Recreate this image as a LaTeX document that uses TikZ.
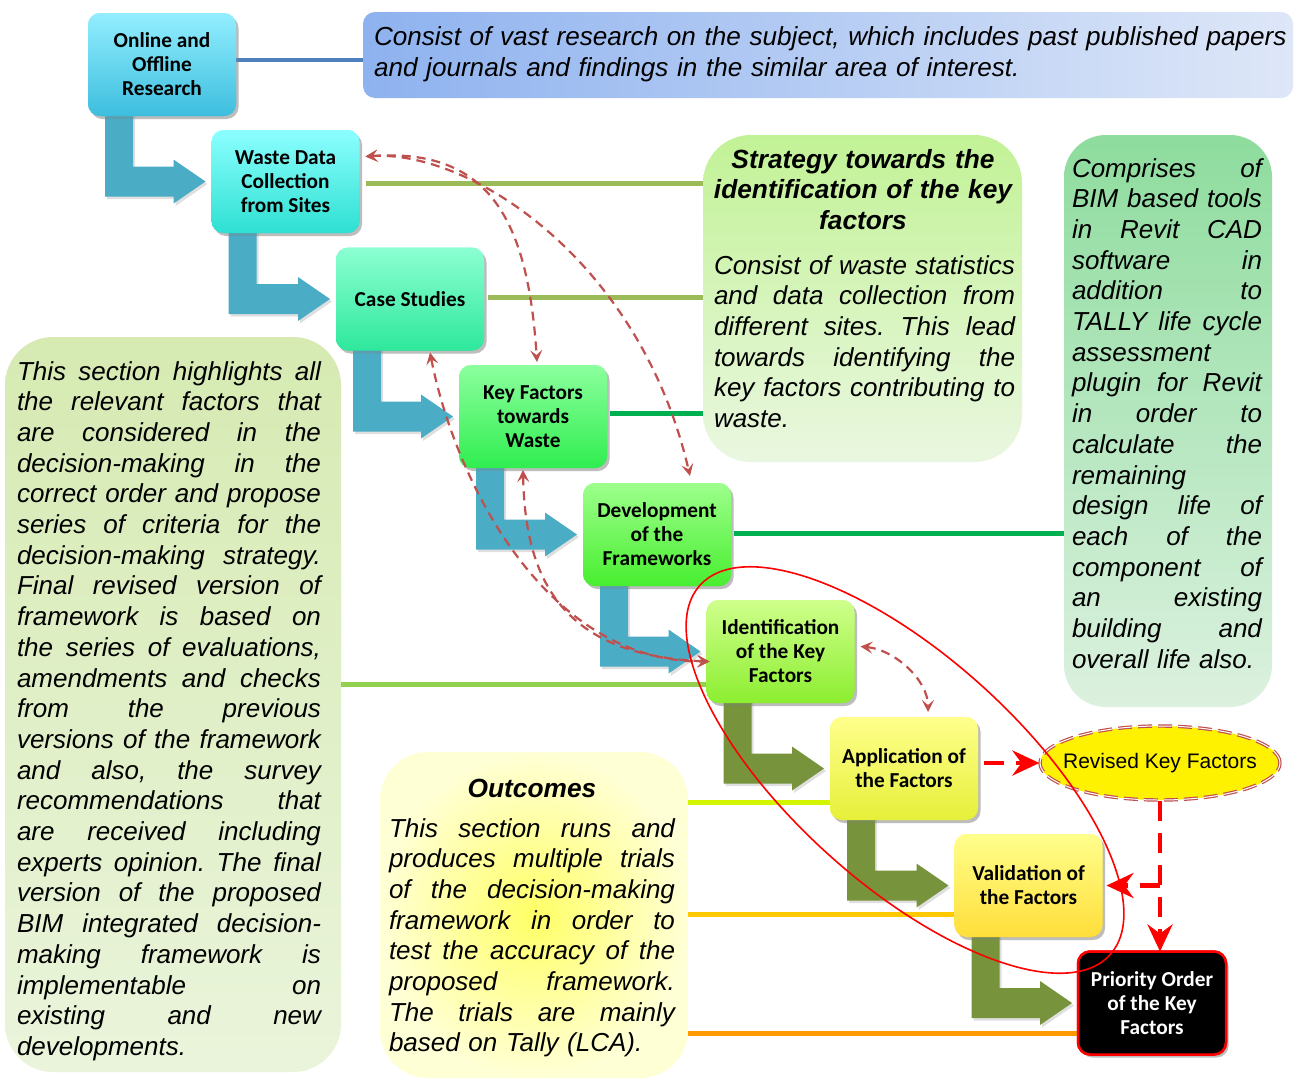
\documentclass[tikz,border=0pt]{standalone}
\usepackage{fontspec}
\setmainfont{Liberation Sans}
\newfontfamily\cbfont{Carlito}
\usetikzlibrary{arrows.meta,shapes.geometric,shadows,calc}

% process box gradients
\definecolor{c1t}{HTML}{93EEFF}\definecolor{c1b}{HTML}{3DBEDE}
\definecolor{c2t}{HTML}{8CFFFF}\definecolor{c2b}{HTML}{2EE0D2}
\definecolor{c3t}{HTML}{8CFFD2}\definecolor{c3b}{HTML}{2EE89C}
\definecolor{c4t}{HTML}{8CFF9E}\definecolor{c4b}{HTML}{30EE50}
\definecolor{c5t}{HTML}{9EFF8C}\definecolor{c5b}{HTML}{48EE30}
\definecolor{c6t}{HTML}{CFFF8C}\definecolor{c6b}{HTML}{8CEE30}
\definecolor{c7t}{HTML}{FFFF8C}\definecolor{c7b}{HTML}{E6F03A}
\definecolor{c8t}{HTML}{FFFF8C}\definecolor{c8b}{HTML}{FFDE3A}
% panels
\definecolor{pA1}{HTML}{8EB2EF}\definecolor{pA2}{HTML}{DEE7F8}
\definecolor{pB1}{HTML}{C2F296}\definecolor{pB2}{HTML}{EAF7E0}
\definecolor{pC1}{HTML}{8EDC9E}\definecolor{pC2}{HTML}{DCF1DF}
\definecolor{pD1}{HTML}{D6EAB2}\definecolor{pD2}{HTML}{EAF4DB}
\definecolor{pE1}{HTML}{FFFF66}\definecolor{pE2}{HTML}{FFFFD6}
% arrows and links
\definecolor{arrblue}{HTML}{4BACC6}
\definecolor{arrolive}{HTML}{77933C}
\definecolor{brn}{HTML}{C0504D}
\definecolor{lnblue}{HTML}{4F81BD}
\definecolor{lnolive}{HTML}{9BBB59}
\definecolor{lngreen}{HTML}{00B050}
\definecolor{lnlime}{HTML}{92D050}
\definecolor{lnyel}{HTML}{D4F500}
\definecolor{lngold}{HTML}{FFC800}
\definecolor{lnorange}{HTML}{FF9900}

% elbow block arrow from the bottom of one step to the left side of the next
\newcommand\elbow[3]{%
  \fill[#3, drop shadow={opacity=0.25, shadow xshift=2pt, shadow yshift=-2.5pt}]
    let \p1=(#1.south west), \p2=(#2.west) in
    (\x1+17pt,\y1+6pt) -- (\x1+45pt,\y1+6pt) -- (\x1+45pt,\y2+15pt)
    -- (\x2-38pt,\y2+15pt) -- (\x2-38pt,\y2+22pt) -- (\x2-6pt,\y2)
    -- (\x2-38pt,\y2-22pt) -- (\x2-38pt,\y2-15pt) -- (\x1+17pt,\y2-15pt) -- cycle;}
% one justified line (interword glue restored so that it can stretch)
\newcommand\jl[1]{\makebox[\hsize][s]{\spaceskip=0pt\xspaceskip=0pt #1}\\}

\begin{document}
\frenchspacing
\begin{tikzpicture}[x=1pt,y=-1pt,
  stepbox/.style={rounded corners=12pt, minimum width=148pt, minimum height=103pt,
    inner sep=2pt, outer sep=0pt, align=center,
    font=\cbfont\bfseries\fontsize{21.3}{24}\selectfont,
    drop shadow={opacity=0.3, shadow xshift=2.5pt, shadow yshift=-3pt}},
  panel/.style={inner sep=0pt, outer sep=0pt},
  desc/.style={inner sep=0pt, outer sep=0pt, align=left,
    font=\fontsize{26}{30.7}\selectfont\itshape},
  link/.style={line width=5pt},
  curvy/.style={draw=brn, line width=2.2pt, dash pattern=on 9pt off 6pt,
    >={Stealth[length=12pt,width=12pt,inset=5pt]}, <->},
  redarrow/.style={draw=red, line width=4.5pt, dash pattern=on 20pt off 12pt,
    -{Stealth[length=27pt,width=25pt,inset=9pt]}},
]
\useasboundingbox (0,0) rectangle (1308,1079);
\fill[white] (0,0) rectangle (1308,1079);

% description panels
\node[panel, rounded corners=12pt, left color=pA1, right color=pA2,
  minimum width=930pt, minimum height=86pt] (A) at (828,55) {};
\node[panel, rounded corners=48pt, top color=pB1, bottom color=pB2,
  minimum width=319pt, minimum height=327pt] (B) at (862.5,298.5) {};
\node[panel, rounded corners=42pt, top color=pC1, bottom color=pC2,
  minimum width=208pt, minimum height=572pt] (C) at (1168,421) {};
\node[panel, rounded corners=48pt, top color=pD1, bottom color=pD2,
  minimum width=336pt, minimum height=735pt] (D) at (173,704.5) {};
\node[panel, rounded corners=48pt, inner color=pE1, outer color=pE2,
  minimum width=308pt, minimum height=326pt] (E) at (534,915) {};

% process steps (placed first so that links and arrows can refer to them)
\node[stepbox, top color=c1t, bottom color=c1b] (b1) at (162,64.5) {Online and\\Offline\\Research};
\node[stepbox, top color=c2t, bottom color=c2b] (b2) at (285.5,181.5) {Waste Data\\Collection\\from Sites};
\node[stepbox, top color=c3t, bottom color=c3b] (b3) at (410,299) {Case Studies};
\node[stepbox, top color=c4t, bottom color=c4b] (b4) at (533,416.5) {Key Factors\\towards\\Waste};
\node[stepbox, top color=c5t, bottom color=c5b] (b5) at (657,534.5) {Development\\of the\\Frameworks};
\node[stepbox, top color=c6t, bottom color=c6b] (b6) at (780.5,651.5) {Identification\\of the Key\\Factors};
\node[stepbox, top color=c7t, bottom color=c7b] (b7) at (904,768.5) {Application of\\the Factors};
\node[stepbox, top color=c8t, bottom color=c8b] (b8) at (1028.5,885.5) {Validation of\\the Factors};
\node[stepbox, fill=black, draw=red, line width=2.5pt, text=white] (b9) at (1152,1003) {Priority Order\\of the Key\\Factors};

% links between steps and panels
\draw[link, lnblue, line width=4.5pt] (b1.east |- 0,60) -- (A.west |- 0,60);
\draw[link, lnolive, shorten <=6pt] (b2.east |- 0,183) -- (B.west |- 0,183);
\draw[link, lnolive, shorten <=4pt] (b3.east |- 0,297) -- (B.west |- 0,297);
\draw[link, lngreen, shorten <=3pt] (b4.east |- 0,413) -- (B.west |- 0,413);
\draw[link, lngreen, shorten <=3pt] (b5.east |- 0,533) -- (C.west |- 0,533);
\draw[link, lnlime] (D.east |- 0,684) -- (b6.west |- 0,684);
\draw[link, lnyel] (E.east |- 0,802) -- (b7.west |- 0,802);
\draw[link, lngold] (E.east |- 0,914) -- (b8.west |- 0,914);
\draw[link, lnorange] (E.east |- 0,1033) -- (b9.west |- 0,1033);

% block arrows
\elbow{b1}{b2}{arrblue}
\elbow{b2}{b3}{arrblue}
\elbow{b3}{b4}{arrblue}
\elbow{b4}{b5}{arrblue}
\elbow{b5}{b6}{arrblue}
\elbow{b6}{b7}{arrolive}
\elbow{b7}{b8}{arrolive}
\elbow{b8}{b9}{arrolive}

% step boxes again, above the arrow shafts
\node[stepbox, top color=c1t, bottom color=c1b] at (b1) {Online and\\Offline\\Research};
\node[stepbox, top color=c2t, bottom color=c2b] at (b2) {Waste Data\\Collection\\from Sites};
\node[stepbox, top color=c3t, bottom color=c3b] at (b3) {Case Studies};
\node[stepbox, top color=c4t, bottom color=c4b] at (b4) {Key Factors\\towards\\Waste};
\node[stepbox, top color=c5t, bottom color=c5b] at (b5) {Development\\of the\\Frameworks};
\node[stepbox, top color=c6t, bottom color=c6b] at (b6) {Identification\\of the Key\\Factors};
\node[stepbox, top color=c7t, bottom color=c7b] at (b7) {Application of\\the Factors};
\node[stepbox, top color=c8t, bottom color=c8b] at (b8) {Validation of\\the Factors};
\node[stepbox, fill=black, draw=red, line width=2.5pt, text=white] at (b9) {Priority Order\\of the Key\\Factors};

% panel texts
\node[desc, text width=930pt, anchor=base west, font=\fontsize{26.1}{31}\selectfont\itshape] (tA) at (374,45)
  {Consist of vast research on the subject, which includes past published papers\\
   and journals and findings in the similar area of interest.};

\node[desc, text width=310pt, align=center, anchor=base, font=\fontsize{26.3}{30.6}\selectfont\bfseries\itshape] (tB1) at (863,168)
  {Strategy towards the\\identification of the key\\factors};
\node[desc, text width=301pt, anchor=base west] (tB2) at (714,274)
  {\jl{Consist of waste statistics}\jl{and data collection from}\jl{different sites. This lead}%
   \jl{towards identifying the}\jl{key factors contributing to}waste.};

\node[desc, text width=190pt, anchor=base west] (tC) at (1072,177)
  {\jl{Comprises of}\jl{BIM based tools}\jl{in Revit CAD}\jl{software in}\jl{addition to}%
   \jl{TALLY life cycle}assessment\\\jl{plugin for Revit}\jl{in order to}\jl{calculate the}%
   remaining\\\jl{design life of}\jl{each of the}\jl{component of}\jl{an existing}%
   \jl{building and}overall life also.};

\node[desc, text width=304pt, anchor=base west] (tD) at (17,380)
  {\jl{This section highlights all}\jl{the relevant factors that}\jl{are considered in the}%
   \jl{decision-making in the}\jl{correct order and propose}\jl{series of criteria for the}%
   \jl{decision-making strategy.}\jl{Final revised version of}\jl{framework is based on}%
   \jl{the series of evaluations,}\jl{amendments and checks}\jl{from the previous}%
   \jl{versions of the framework}\jl{and also, the survey}\jl{recommendations that}%
   \jl{are received including}\jl{experts opinion. The final}\jl{version of the proposed}%
   \jl{BIM integrated decision-}\jl{making framework is}\jl{implementable on}%
   \jl{existing and new}developments.};

\node[desc, anchor=base, font=\fontsize{26.3}{30.6}\selectfont\bfseries\itshape] (tE1) at (532,797) {Outcomes};
\node[desc, text width=286pt, anchor=base west] (tE2) at (389,837)
  {\jl{This section runs and}\jl{produces multiple trials}\jl{of the decision-making}%
   \jl{framework in order to}\jl{test the accuracy of the}\jl{proposed framework.}%
   \jl{The trials are mainly}based on Tally (LCA).};

% feedback loops between steps
\draw[curvy] ([shift={(6,-25)}]b2.east) .. controls +(124,-9) and +(-9,-142) .. ([shift={(4,-3)}]b4.north);
\draw[curvy] ([shift={(6,-25)}]b2.east) .. controls +(104,-7) and +(-50,-216) .. ([shift={(33,-7)}]b5.north);
\draw[curvy] ([shift={(20,2)}]b3.south) .. controls +(25,128) and +(-164,1) .. ([shift={(3,10)}]b6.west);
\draw[curvy] ([shift={(-10,2)}]b4.south) .. controls +(2,108) and +(-149,-6) .. ([shift={(3,10)}]b6.west);
\draw[curvy] ([shift={(6,-5)}]b6.east) .. controls +(34,3) and +(0,-32) .. ([shift={(24,-5)}]b7.north);

% revised factors and their paths
\node[ellipse, fill=yellow, draw=brn, double=white, double distance=1pt, line width=1.2pt,
  dash pattern=on 14pt off 6pt, minimum width=240pt, minimum height=74pt, inner sep=0pt] (R) at (1160,763) {};
\node[font=\fontsize{21}{25}\selectfont, inner sep=0pt] (tR) at (R) {Revised Key Factors};
\draw[redarrow, shorten <=6pt] (b7.east |- R.west) -- (R.west);
\draw[redarrow] (R.south) -- (R.south |- b9.north);
\draw[redarrow, shorten >=4pt] (R.south |- b8.east) -- (b8.east);

% grouping of the evaluation steps
\draw[red, line width=1.6pt, rotate around={-42:(905,770)}] (905,770) ellipse [x radius=276pt, y radius=114pt];
\end{tikzpicture}
\end{document}
